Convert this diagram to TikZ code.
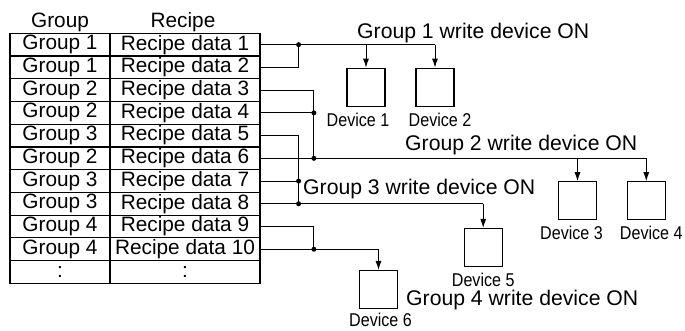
\documentclass[tikz,border=0pt]{standalone}
\usepackage{fontspec}
\setmainfont{Liberation Sans}
\newfontfamily\devfont[FakeStretch=0.87]{Liberation Sans}
\usetikzlibrary{arrows.meta,positioning,calc}
\tikzset{
  cell/.style={draw=black, line width=1.2pt, minimum height=22.73pt, inner sep=0pt,
    font=\fontsize{20.8}{22}\selectfont},
  grpcell/.style={cell, minimum width=100pt},
  rcpcell/.style={cell, minimum width=150pt},
  head/.style={anchor=base, inner sep=0pt, font=\fontsize{20.8}{22}\selectfont},
  caption/.style={anchor=base west, inner sep=0pt, font=\fontsize{21.2}{22}\selectfont},
  device/.style={draw=black, line width=1.1pt, minimum width=38pt, minimum height=38pt, inner sep=0pt},
  devlabel/.style={inner sep=0pt, font=\devfont\fontsize{18.5}{20}\selectfont},
  wire/.style={line width=1pt},
  arr/.style={-{Latex[length=9pt,width=6pt]}, line width=1pt},
  dot/.style={circle, fill=black, inner sep=0pt, minimum size=5pt}
}
\begin{document}
\begin{tikzpicture}[x=1pt, y=-1pt]
  \useasboundingbox (0,0) rectangle (685,331);
  % table
  \node[head] (hgrp) at (60,27.5) {Group};
  \node[head] (hrcp) at (183,27.5) {Recipe};
  \foreach \i/\g/\r in {1/Group 1/Recipe data 1, 2/Group 1/Recipe data 2,
      3/Group 2/Recipe data 3, 4/Group 2/Recipe data 4, 5/Group 3/Recipe data 5,
      6/Group 2/Recipe data 6, 7/Group 3/Recipe data 7, 8/Group 3/Recipe data 8,
      9/Group 4/Recipe data 9, 10/Group 4/Recipe data 10, 11/:/:}{
    \node[grpcell] (grp\i) at (60,{33.3+22.73*(\i-0.5)}) {\g};
    \node[rcpcell] (rcp\i) at (185,{33.3+22.73*(\i-0.5)}) {\r};
  }

  % devices
  \node[device] (dev1) at (366,87.2) {};
  \node[device] (dev2) at (435,87.2) {};
  \node[device] (dev3) at (577.5,200.8) {};
  \node[device] (dev4) at (646.3,200.8) {};
  \node[device] (dev5) at (483.2,247.5) {};
  \node[device] (dev6) at (378.5,289.5) {};
  \node[devlabel, below=6pt of dev1, xshift=-8pt] (lbl1) {Device 1};
  \node[devlabel, below=6pt of dev2, xshift=5pt] (lbl2) {Device 2};
  \node[devlabel, below=6pt of dev3, xshift=-6pt] (lbl3) {Device 3};
  \node[devlabel, below=6pt of dev4, xshift=5pt] (lbl4) {Device 4};
  \node[devlabel, below=6pt of dev5] (lbl5) {Device 5};
  \node[devlabel, below=3.5pt of dev6, xshift=2pt] (lbl6) {Device 6};

  \node[caption] (cap1) at (357,39) {Group 1 write device ON};
  \node[caption] (cap2) at (405,151) {Group 2 write device ON};
  \node[caption] (cap3) at (303,194.5) {Group 3 write device ON};
  \node[caption] (cap4) at (406,305.5) {Group 4 write device ON};

  % junctions
  \coordinate (j1) at ($(rcp1.east)+(38,0)$);
  \coordinate (j2) at ($(rcp4.east)+(53.3,0)$);
  \coordinate (j3) at ($(rcp6.east)+(53.3,0)$);
  \coordinate (j4) at ($(rcp7.east)+(38,0)$);
  \coordinate (j5) at ($(rcp8.east)+(38,0)$);
  \coordinate (j6) at ($(rcp10.east)+(53.3,0)$);

  % group 1
  \draw[wire] (rcp1.east) -- (j1 -| dev2.north);
  \draw[wire] (rcp2.east) -| (j1);
  \draw[arr] (j1 -| dev1.north) -- (dev1.north);
  \draw[arr] (j1 -| dev2.north) -- (dev2.north);
  % group 2
  \draw[wire] (rcp3.east) -| (j3);
  \draw[wire] (rcp4.east) -- (j2);
  \draw[wire] (rcp6.east) -- (j3 -| dev4.north);
  \draw[arr] (j3 -| dev3.north) -- (dev3.north);
  \draw[arr] (j3 -| dev4.north) -- (dev4.north);
  % group 3
  \draw[wire] (rcp5.east) -| (j5);
  \draw[wire] (rcp7.east) -- (j4);
  \draw[wire] (rcp8.east) -- (j5 -| dev5.north);
  \draw[arr] (j5 -| dev5.north) -- (dev5.north);
  % group 4
  \draw[wire] (rcp9.east) -| (j6);
  \draw[wire] (rcp10.east) -- (j6 -| dev6.north);
  \draw[arr] (j6 -| dev6.north) -- (dev6.north);

  \foreach \k in {1,...,6}
    \node[dot] at (j\k) {};
\end{tikzpicture}
\end{document}
